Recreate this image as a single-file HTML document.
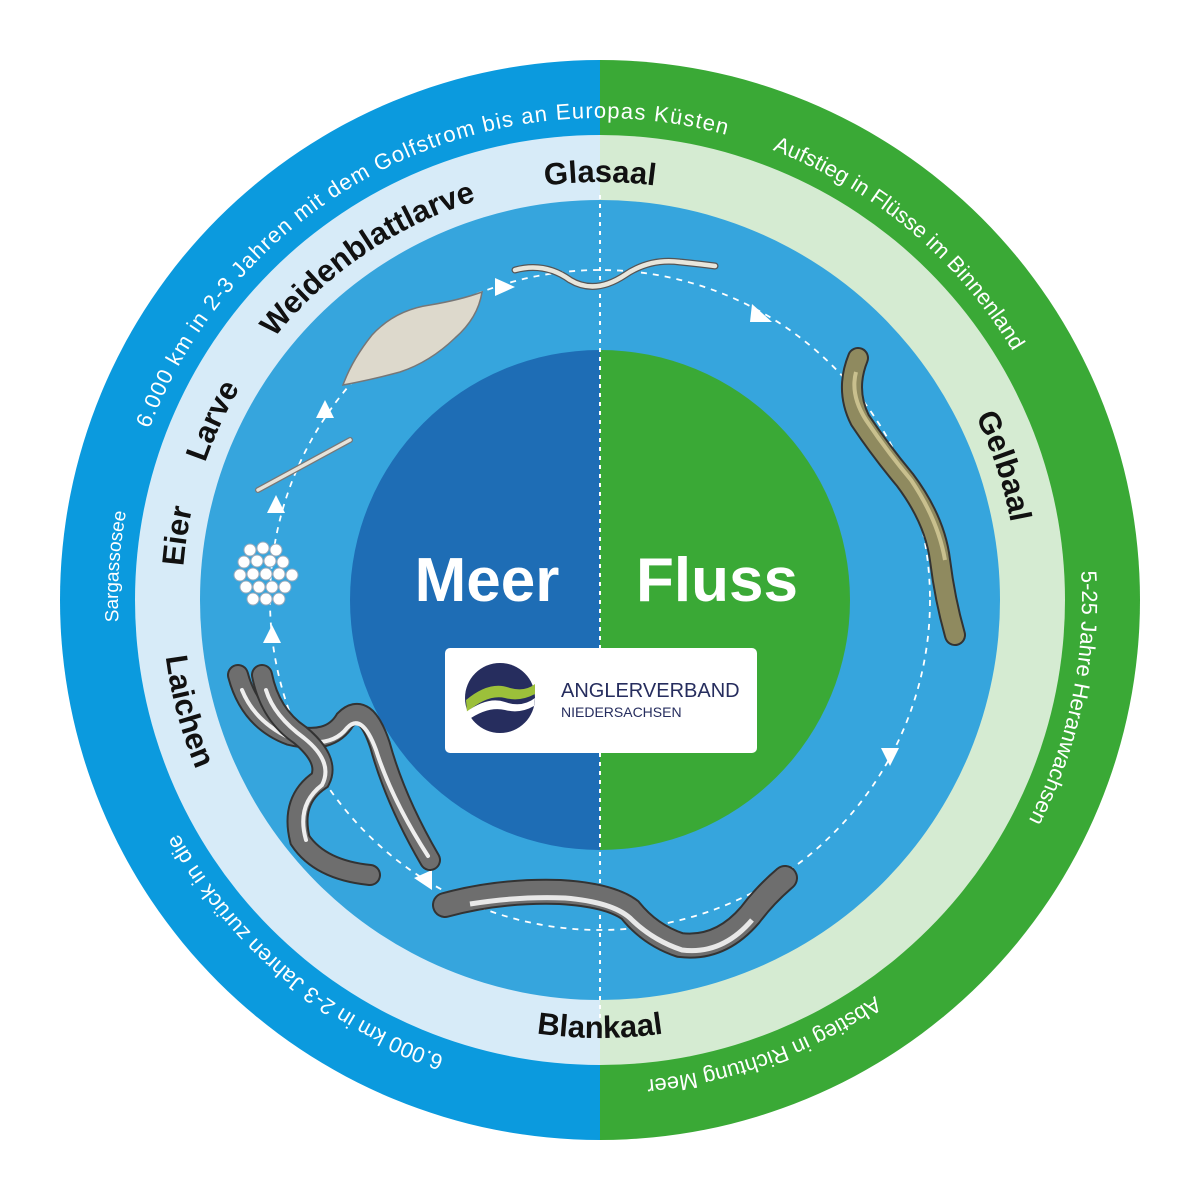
<!DOCTYPE html>
<html><head><meta charset="utf-8"><style>
html,body{margin:0;padding:0;background:#fff;}
svg{display:block;}
text{font-family:"Liberation Sans","DejaVu Sans",sans-serif;}
</style></head><body>
<svg width="1200" height="1200" viewBox="0 0 1200 1200" xmlns="http://www.w3.org/2000/svg">
<defs>
<clipPath id="L"><rect x="0" y="0" width="600" height="1200"/></clipPath>
<clipPath id="R"><rect x="600" y="0" width="600" height="1200"/></clipPath>
<path id="outer" d="M600,1082 A482,482 0 1 1 600,118 A482,482 0 1 1 600,1082"/>
<path id="incw" d="M600,1018 A418,418 0 1 1 600,182 A418,418 0 1 1 600,1018"/>
<path id="inccw" d="M600,162 A438,438 0 1 0 600,1038 A438,438 0 1 0 600,162"/>
</defs>
<circle cx="600" cy="600" r="540" fill="#0b9ade" clip-path="url(#L)"/>
<circle cx="600" cy="600" r="540" fill="#3aa936" clip-path="url(#R)"/>
<circle cx="600" cy="600" r="465" fill="#d7ebf8" clip-path="url(#L)"/>
<circle cx="600" cy="600" r="465" fill="#d5ebd2" clip-path="url(#R)"/>
<circle cx="600" cy="600" r="400" fill="#36a5dd"/>
<circle cx="600" cy="600" r="250" fill="#1e6db5" clip-path="url(#L)"/>
<circle cx="600" cy="600" r="250" fill="#3aa936" clip-path="url(#R)"/>
<line x1="600" y1="195" x2="600" y2="1040" stroke="#fff" stroke-width="2" stroke-dasharray="4,5"/>
<circle cx="600" cy="600" r="330" fill="none" stroke="#fff" stroke-width="1.8" stroke-dasharray="6,6"/>
<g fill="#fff">
<polygon points="495,278 515,287 495,296"/>
<polygon points="752,304 772,322 750,322"/>
<polygon points="881,748 899,748 890,766"/>
<polygon points="432,870 432,890 414,878"/>
<polygon points="263,643 281,643 272,625"/>
<polygon points="267,513 285,513 276,495"/>
<polygon points="316,418 334,418 325,400"/>
</g>
<g fill="#fff" font-size="22">
<text><textPath href="#outer" startOffset="42.5%" text-anchor="middle" textLength="710" lengthAdjust="spacing">6.000 km in 2-3 Jahren mit dem Golfstrom bis an Europas Küsten</textPath></text>
<text><textPath href="#outer" startOffset="26.1%" text-anchor="middle" font-size="19">Sargassosee</textPath></text>
<text><textPath href="#outer" startOffset="61.1%" text-anchor="middle">Aufstieg in Flüsse im Binnenland</textPath></text>
<text><textPath href="#outer" startOffset="78.3%" text-anchor="middle">5-25 Jahre Heranwachsen</textPath></text>
<text><textPath href="#outer" startOffset="94.4%" text-anchor="middle">Abstieg in Richtung Meer</textPath></text>
<text><textPath href="#outer" startOffset="11.1%" text-anchor="middle">6.000 km in 2-3 Jahren zurück in die</textPath></text>
</g>
<g fill="#111" font-size="31" font-weight="bold">
<text><textPath href="#incw" startOffset="50%" text-anchor="middle">Glasaal</textPath></text>
<text><textPath href="#incw" startOffset="40.5%" text-anchor="middle">Weidenblattlarve</textPath></text>
<text><textPath href="#incw" startOffset="31.9%" text-anchor="middle">Larve</textPath></text>
<text><textPath href="#incw" startOffset="27.4%" text-anchor="middle">Eier</textPath></text>
<text><textPath href="#incw" startOffset="69.9%" text-anchor="middle">Gelbaal</textPath></text>
<text><textPath href="#inccw" startOffset="29.2%" text-anchor="middle">Laichen</textPath></text>
<text><textPath href="#inccw" startOffset="50%" text-anchor="middle">Blankaal</textPath></text>
</g>
<text x="487" y="601" fill="#fff" font-size="62" font-weight="bold" text-anchor="middle">Meer</text>
<text x="717" y="601" fill="#fff" font-size="62" font-weight="bold" text-anchor="middle">Fluss</text>
<rect x="445" y="648" width="312" height="105" rx="5" fill="#fff"/>
<circle cx="500" cy="698" r="35" fill="#262d5e"/>
<path d="M466,700 Q490,680 510,688 Q525,692 535,684 L535,694 Q520,702 505,698 Q488,694 467,712 Z" fill="#9cc03a"/>
<path d="M466,712 Q488,696 505,702 Q522,708 535,698 L534,706 Q520,714 505,710 Q488,706 468,720 Z" fill="#fff"/>
<text x="561" y="697" fill="#262d5e" font-size="20">ANGLERVERBAND</text>
<text x="561" y="717" fill="#262d5e" font-size="14">NIEDERSACHSEN</text>
<path d="M515,270 Q545,262 570,280 Q595,295 625,275 Q650,258 680,262 Q700,264 715,266" fill="none" stroke="#555" stroke-width="7" stroke-linecap="round"/>
<path d="M515,270 Q545,262 570,280 Q595,295 625,275 Q650,258 680,262 Q700,264 715,266" fill="none" stroke="#e8e6dc" stroke-width="4.5" stroke-linecap="round"/>
<path d="M343,385 Q352,360 372,335 Q395,310 430,305 Q460,300 482,292 Q478,318 455,338 Q430,362 400,372 Q370,380 343,385 Z" fill="#ddd9cc" stroke="#777" stroke-width="1.5"/>
<line x1="258" y1="490" x2="350" y2="440" stroke="#777" stroke-width="6" stroke-linecap="round"/>
<line x1="258" y1="490" x2="350" y2="440" stroke="#e6e3da" stroke-width="3.5" stroke-linecap="round"/>
<g fill="#fff" stroke="#9ab" stroke-width="1">
<circle cx="250" cy="550" r="6"/><circle cx="263" cy="548" r="6"/><circle cx="276" cy="550" r="6"/>
<circle cx="244" cy="562" r="6"/><circle cx="257" cy="561" r="6"/><circle cx="270" cy="561" r="6"/><circle cx="283" cy="562" r="6"/>
<circle cx="240" cy="575" r="6"/><circle cx="253" cy="574" r="6"/><circle cx="266" cy="574" r="6"/><circle cx="279" cy="574" r="6"/><circle cx="292" cy="575" r="6"/>
<circle cx="246" cy="587" r="6"/><circle cx="259" cy="587" r="6"/><circle cx="272" cy="587" r="6"/><circle cx="285" cy="587" r="6"/>
<circle cx="253" cy="599" r="6"/><circle cx="266" cy="599" r="6"/><circle cx="279" cy="599" r="6"/>
</g>
<path d="M858,358 Q845,390 860,420 Q880,450 905,480 Q935,520 940,560 Q945,600 955,635" fill="none" stroke="#333" stroke-width="22" stroke-linecap="round"/>
<path d="M858,358 Q845,390 860,420 Q880,450 905,480 Q935,520 940,560 Q945,600 955,635" fill="none" stroke="#8f8a5f" stroke-width="18" stroke-linecap="round"/>
<path d="M856,372 Q850,395 866,420 Q886,450 911,480 Q938,520 945,560" fill="none" stroke="#c9c08e" stroke-width="4"/>
<path d="M445,905 Q500,890 560,892 Q610,895 630,910 Q650,935 680,945 Q720,950 750,915 Q765,895 785,878" fill="none" stroke="#333" stroke-width="26" stroke-linecap="round"/>
<path d="M445,905 Q500,890 560,892 Q610,895 630,910 Q650,935 680,945 Q720,950 750,915 Q765,895 785,878" fill="none" stroke="#6e6e6e" stroke-width="22" stroke-linecap="round"/>
<path d="M470,904 Q520,896 565,898 Q612,902 630,918 Q652,940 682,950 Q722,955 752,920" fill="none" stroke="#e8e8e8" stroke-width="5"/>
<g fill="none" stroke-linecap="round">
<path d="M238,675 Q250,720 290,735 Q330,745 345,720 Q365,700 380,745 Q395,800 430,860" stroke="#333" stroke-width="22"/>
<path d="M238,675 Q250,720 290,735 Q330,745 345,720 Q365,700 380,745 Q395,800 430,860" stroke="#6e6e6e" stroke-width="18"/>
<path d="M242,690 Q255,722 290,738 Q330,750 347,728 Q362,712 376,750 Q392,800 428,856" stroke="#eee" stroke-width="4"/>
<path d="M262,675 Q270,715 300,735 Q330,760 320,780 Q290,800 300,840 Q320,870 370,875" stroke="#333" stroke-width="22"/>
<path d="M262,675 Q270,715 300,735 Q330,760 320,780 Q290,800 300,840 Q320,870 370,875" stroke="#6e6e6e" stroke-width="18"/>
<path d="M266,690 Q274,716 304,738 Q334,762 322,785 Q296,805 306,840" stroke="#eee" stroke-width="4"/>
</g>
</svg>
</body></html>
